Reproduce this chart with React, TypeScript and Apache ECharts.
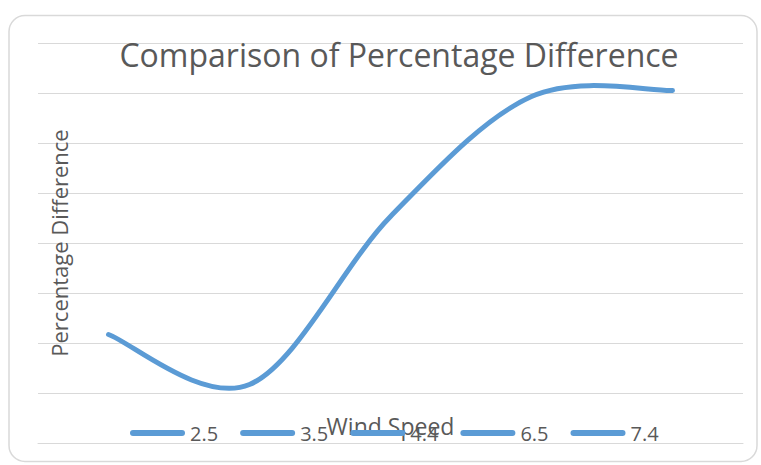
import React, { useEffect, useRef } from "react";
import * as echarts from "echarts";

const windSpeeds = ["2.5", "3.5", "4.4", "6.5", "7.4"];
const percentageDifference = [10.85, 5.85, 22.65, 34.65, 35.25];
const titleText = "Comparison of Percentage Difference";
const yAxisName = "Percentage Difference";
const xAxisName = "Wind Speed";

const LINE_COLOR = "#5b9bd5";
const TEXT_COLOR = "#595959";
const GRID_COLOR = "#d9d9d9";
const FONT = "'Open Sans', 'Liberation Sans', sans-serif";

// Smooth (Catmull-Rom style, like spreadsheet "smoothed line") path through pixel points
function smoothPath(pts: number[][]): string {
  if (!pts.length) return "";
  let d = `M${pts[0][0]},${pts[0][1]}`;
  for (let i = 0; i < pts.length - 1; i++) {
    const p0 = pts[i - 1] || pts[i];
    const p1 = pts[i];
    const p2 = pts[i + 1];
    const p3 = pts[i + 2] || pts[i + 1];
    const c1x = p1[0] + (p2[0] - p0[0]) / 6;
    const c1y = p1[1] + (p2[1] - p0[1]) / 6;
    const c2x = p2[0] - (p3[0] - p1[0]) / 6;
    const c2y = p2[1] - (p3[1] - p1[1]) / 6;
    d += ` C${c1x},${c1y} ${c2x},${c2y} ${p2[0]},${p2[1]}`;
  }
  return d;
}

export default function App() {
  const ref = useRef<HTMLDivElement>(null);
  useEffect(() => {
    if (!ref.current) return;
    const chart = echarts.init(ref.current, null, { renderer: "svg" });
    const series: any[] = windSpeeds.map((name, i) => {
      if (i === 0) {
        return {
          name,
          type: "custom",
          data: percentageDifference.map((v, j) => [j, v]),
          encode: { x: 0, y: 1 },
          itemStyle: { color: LINE_COLOR },
          renderItem: (params: any, api: any) => {
            if (params.dataIndex !== 0) return null;
            const pts = percentageDifference.map((v, j) => api.coord([j, v]));
            return {
              type: "path",
              shape: { pathData: smoothPath(pts) },
              style: {
                fill: "none",
                stroke: LINE_COLOR,
                lineWidth: 5,
                lineCap: "round",
                lineJoin: "round",
              },
            };
          },
        };
      }
      return {
        name,
        type: "line",
        data: [],
        symbol: "none",
        color: LINE_COLOR,
        lineStyle: { color: LINE_COLOR, width: 5 },
      };
    });
    chart.setOption({
      animation: false,
      backgroundColor: "#ffffff",
      title: {
        text: titleText,
        left: 394,
        top: 33,
        textAlign: "center",
        textStyle: {
          fontFamily: FONT,
          fontSize: 32,
          fontWeight: "normal",
          color: TEXT_COLOR,
        },
      },
      graphic: [
        {
          type: "rect",
          shape: { x: 9, y: 15.5, width: 748, height: 446, r: 16 },
          style: { fill: "none", stroke: GRID_COLOR, lineWidth: 1.5 },
          silent: true,
          z: -1,
        },
      ],
      legend: {
        data: windSpeeds.map((n) => ({ name: n, itemStyle: { color: LINE_COLOR } })),
        left: 130,
        top: 423,
        padding: 0,
        itemWidth: 55,
        itemHeight: 6,
        itemGap: 22,
        icon: "path://M3,0 H52 A3,3 0 0 1 52,6 H3 A3,3 0 0 1 3,0 Z",
        textStyle: { fontFamily: FONT, fontSize: 20, color: TEXT_COLOR },
        selectedMode: false,
      },
      grid: { left: 38, right: 18, top: 43, bottom: 22, containLabel: false },
      xAxis: {
        type: "category",
        data: windSpeeds,
        boundaryGap: true,
        name: xAxisName,
        nameLocation: "middle",
        nameGap: -29,
        nameTextStyle: { fontFamily: FONT, fontSize: 23, color: TEXT_COLOR },
        axisLine: { show: true, lineStyle: { color: GRID_COLOR, width: 1 } },
        axisTick: { show: false },
        axisLabel: { show: false },
      },
      yAxis: {
        type: "value",
        min: 0,
        max: 40,
        interval: 5,
        name: yAxisName,
        nameLocation: "middle",
        nameGap: -32,
        nameTextStyle: { fontFamily: FONT, fontSize: 22, color: TEXT_COLOR },
        axisLine: { show: false },
        axisTick: { show: false },
        axisLabel: { show: false },
        splitLine: { show: true, lineStyle: { color: GRID_COLOR, width: 1 } },
      },
      series,
    });
    return () => chart.dispose();
  }, []);
  return (
    <div
      ref={ref}
      style={{ position: "fixed", left: 0, top: 0, width: 761, height: 465 }}
    />
  );
}
